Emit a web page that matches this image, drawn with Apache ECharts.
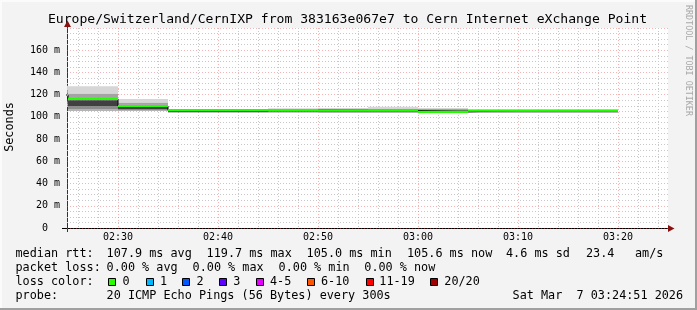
<!DOCTYPE html>
<html><head><meta charset="utf-8">
<script src="https://cdn.jsdelivr.net/npm/echarts@6/dist/echarts.min.js"></script>
<style>html,body{margin:0;padding:0;background:#f3f3f3}#c{width:697px;height:310px}</style>
</head><body><div id="c"></div>
<script>
// ---- data (times are step end times, each step = 5 minutes) ----
const stepEnds = ['02:25','02:30','02:35','02:40','02:45','02:50','02:55','03:00','03:05','03:10','03:15','03:20'];
const medianMs = [119.7, 116.2, 109.8, 106.0, 106.0, 106.2, 105.8, 105.8, 104.6, 105.6, 105.6, 105.6];
// smoke band boundaries (ms), lowest to highest
const smoke0 = [110.0, 105.2, 105.2, 104.0, 104.0, 103.8, 103.5, 103.5, 103.6, 103.4, 103.4, 103.4];
const smoke1 = [112.0, 107.0, 106.3, 104.1, 104.1, 104.5, 104.3, 104.3, 103.7, 104.5, 104.5, 104.5];
const smoke2 = [114.0, 109.7, 107.0, 104.2, 104.2, 104.9, 104.6, 104.6, 103.8, 104.6, 104.6, 104.6];
const smoke3 = [118.0, 115.0, 109.0, 105.3, 105.3, 106.0, 105.6, 105.6, 104.0, 105.5, 105.5, 105.5];
const smoke4 = [121.0, 117.5, 111.2, 106.4, 106.4, 106.9, 107.0, 106.8, 106.3, 106.2, 106.2, 106.2];
const smoke5 = [124.0, 121.1, 113.0, 106.7, 106.7, 107.3, 107.6, 107.6, 107.0, 106.4, 106.4, 106.4];
const smoke6 = [128.0, 127.6, 116.0, 107.0, 107.0, 107.8, 108.0, 109.2, 107.9, 106.6, 106.6, 106.6];
const xTickLabels = ['02:30','02:40','02:50','03:00','03:10','03:20'];
const yTickValues = [0, 20, 40, 60, 80, 100, 120, 140, 160];
const axisStart = '02:24:54';
const axisEnd = '03:25:00';
const stepMinutes = 5;
const lossLabels = ['0','1','2','3','4-5','6-10','11-19','20/20'];
const lossColors = ['#26ff00','#00b8ff','#0059ff','#5e00ff','#e600ff','#ff5500','#ff0000','#a10000'];

// ---- helpers ----
function toMin(s){const p=s.split(':').map(Number);return p[0]*60+p[1]+(p[2]||0)/60;}
function fmtMin(v){const h=Math.floor(v/60),m=Math.round(v-h*60);return String(h).padStart(2,'0')+':'+String(m).padStart(2,'0');}
const xMin = toMin(axisStart), xMax = toMin(axisEnd);
const bandColors = ['#b4b4b4','#8c8c8c','#404040','#606060','#a4a4a4','#d6d6d6'];
const smokeLevels = [smoke0,smoke1,smoke2,smoke3,smoke4,smoke5,smoke6];
const smokeData = [];
stepEnds.forEach((e,i)=>{
  const t1=toMin(e), t0=t1-stepMinutes;
  for(let k=0;k<6;k++){
    const lo=smokeLevels[k][i], hi=smokeLevels[k+1][i];
    if(hi>lo) smokeData.push([t0,t1,lo,hi,k]);
  }
});
const medianSeg = stepEnds.map((e,i)=>[toMin(e)-stepMinutes,toMin(e),medianMs[i]]);
const medianStep = stepEnds.map((e,i)=>[toMin(e)-stepMinutes,medianMs[i]]);
medianStep.push([toMin(stepEnds[stepEnds.length-1]),medianMs[medianMs.length-1]]);
const gridMinor=[]; for(let v=Math.ceil(xMin/2)*2; v<=xMax; v+=2) gridMinor.push(v);
const labelVals = xTickLabels.map(toMin);

function clipTo(cs, r){return echarts.graphic.clipRectByRect(r,{x:cs.x,y:cs.y,width:cs.width,height:cs.height});}

const FONT='DejaVu Sans Mono';
const MAJOR='rgba(235,90,90,0.45)', MINOR='#c8c8c8';
const legendY=[254,268,281.5,296];
function txt(x,y,s,extra){return Object.assign({type:'text',x:x,y:y,silent:true,style:{text:s,font:'11.8px "'+FONT+'"',fill:'#000',align:'left',verticalAlign:'middle'}},extra||{});}
const graphics = [
  {type:'rect',shape:{x:0,y:0,width:697,height:2},style:{fill:'#fbfbfb'},silent:true},
  {type:'rect',shape:{x:0,y:0,width:2,height:310},style:{fill:'#fbfbfb'},silent:true},
  {type:'rect',shape:{x:695,y:0,width:2,height:310},style:{fill:'#a0a0a0'},silent:true},
  {type:'rect',shape:{x:0,y:308,width:697,height:2},style:{fill:'#a0a0a0'},silent:true},
  {type:'text',x:347.5,y:19.5,silent:true,style:{text:'Europe/Switzerland/CernIXP from 383163e067e7 to Cern Internet eXchange Point',font:'13.1px "'+FONT+'"',fill:'#000',align:'center',verticalAlign:'middle'}},
  {type:'text',x:10,y:127,rotation:Math.PI/2,silent:true,style:{text:'Seconds',font:'11.8px "'+FONT+'"',fill:'#000',align:'center',verticalAlign:'middle'}},
  {type:'text',x:688,y:5,rotation:-Math.PI/2,silent:true,style:{text:'RRDTOOL / TOBI OETIKER',font:'8.4px "'+FONT+'"',fill:'#a8a8a8',align:'left',verticalAlign:'middle'}},
  // axis extensions and arrows
  {type:'line',silent:true,shape:{x1:62,y1:228.5,x2:668,y2:228.5},style:{stroke:'#000',lineWidth:1}},
  {type:'line',silent:true,shape:{x1:67.5,y1:26,x2:67.5,y2:232},style:{stroke:'#333',lineWidth:1}},
  {type:'polygon',silent:true,shape:{points:[[668,225],[674.5,228.5],[668,232]]},style:{fill:'#8b1010'}},
  {type:'polygon',silent:true,shape:{points:[[64,27],[67.5,20.5],[71,27]]},style:{fill:'#8b1010'}},
  txt(15.5,legendY[0],'median rtt:'), txt(106.6,legendY[0],'107.9 ms avg'), txt(206.6,legendY[0],'119.7 ms max'),
  txt(306.6,legendY[0],'105.0 ms min'), txt(407,legendY[0],'105.6 ms now'), txt(506,legendY[0],'4.6 ms sd'),
  txt(586,legendY[0],'23.4'), txt(635,legendY[0],'am/s'),
  txt(15.5,legendY[1],'packet loss:'), txt(106.6,legendY[1],'0.00 % avg'), txt(192.6,legendY[1],'0.00 % max'),
  txt(278.6,legendY[1],'0.00 % min'), txt(364.3,legendY[1],'0.00 % now'),
  txt(15.5,legendY[2],'loss color:'),
  txt(15.5,legendY[3],'probe:'), txt(106.6,legendY[3],'20 ICMP Echo Pings (56 Bytes) every 300s'),
  txt(512.6,legendY[3],'Sat Mar  7 03:24:51 2026')
];
const boxX=[108.5,146.5,182.5,219.5,256.5,307.5,366.5,430.5];
const lblX=[122.6,160,196.6,233.3,270,321,379.3,444.3];
lossLabels.forEach((l,i)=>{
  graphics.push({type:'rect',silent:true,shape:{x:boxX[i],y:278.5,width:7,height:7},style:{fill:lossColors[i],stroke:'#000',lineWidth:1}});
  graphics.push(txt(lblX[i],legendY[2],l));
});

const chart = echarts.init(document.getElementById('c'),null,{renderer:'canvas'});
chart.setOption({
  backgroundColor:'#f3f3f3',
  animation:false,
  textStyle:{fontFamily:FONT},
  grid:{left:67,top:28,width:601,height:200,show:true,backgroundColor:'#ffffff',borderWidth:0},
  xAxis:{
    type:'value',min:xMin,max:xMax,
    axisLine:{show:false},
    axisTick:{show:false,customValues:gridMinor},
    axisLabel:{customValues:labelVals,formatter:v=>fmtMin(v),color:'#000',fontFamily:FONT,fontSize:10,margin:4},
    splitLine:{show:true,lineStyle:{type:[1,2],width:1,color:[MINOR,MINOR,MAJOR,MINOR,MINOR]}}
  },
  yAxis:{
    type:'value',min:0,max:180,interval:20,
    axisLine:{show:false},
    axisTick:{show:false},
    axisLabel:{color:'#000',fontFamily:FONT,fontSize:10,margin:7,
      formatter:v=>v===0?'0  ':(yTickValues.indexOf(v)>=0?v+' m':'')},
    splitLine:{show:true,lineStyle:{type:[1,2],width:1,color:MAJOR}},
    minorTick:{show:false,splitNumber:4},
    minorSplitLine:{show:true,lineStyle:{type:[1,2],width:1,color:MINOR}}
  },
  series:[
    {type:'custom',z:2,silent:true,data:smokeData,encode:{x:[0,1],y:[2,3]},
     renderItem(params,api){
       const p0=api.coord([api.value(0),api.value(3)]);
       const p1=api.coord([api.value(1),api.value(2)]);
       const r=clipTo(params.coordSys,{x:p0[0],y:p0[1],width:p1[0]-p0[0],height:p1[1]-p0[1]});
       if(!r) return null;
       return {type:'rect',shape:r,style:{fill:bandColors[api.value(4)]}};
     }},
    {type:'line',z:3,silent:true,step:'end',showSymbol:false,symbol:'none',data:medianStep,
     lineStyle:{color:'#000',width:1}},
    {type:'custom',z:4,silent:true,data:medianSeg,encode:{x:[0,1],y:2},
     renderItem(params,api){
       const a=api.coord([api.value(0),api.value(2)]);
       const b=api.coord([api.value(1),api.value(2)]);
       const cs=params.coordSys;
       const x1=Math.max(a[0],cs.x), x2=Math.min(b[0],cs.x+cs.width);
       if(x2<=x1) return null;
       return {type:'line',shape:{x1:x1,y1:a[1],x2:x2,y2:b[1]},style:{stroke:'#22ff00',lineWidth:2.2}};
     }}
  ],
  graphic:graphics
});
</script></body></html>
